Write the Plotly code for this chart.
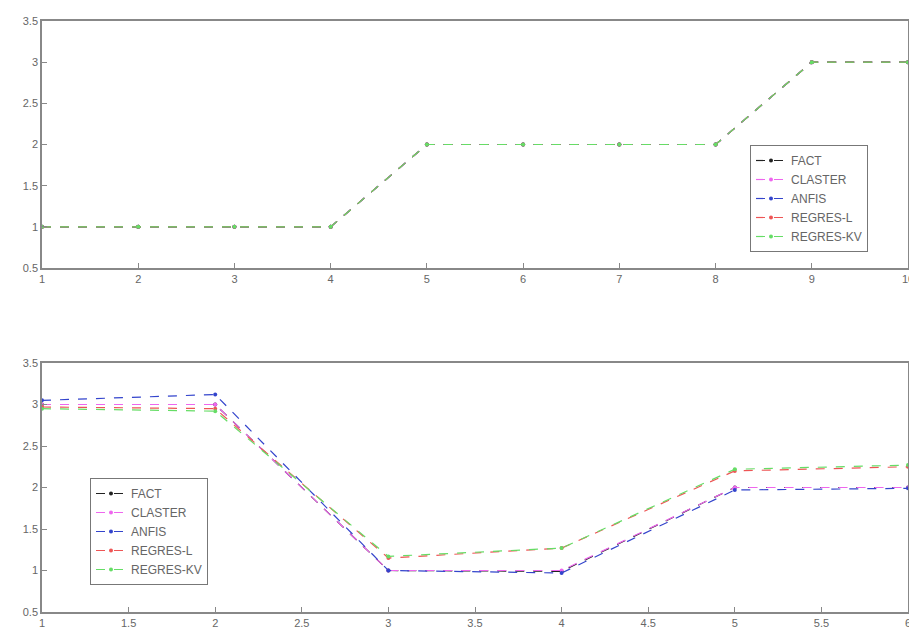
import plotly.graph_objects as go

x_top = [1, 2, 3, 4, 5, 6, 7, 8, 9, 10]
fact_top = [1, 1, 1, 1, 2, 2, 2, 2, 3, 3]
claster_top = [1, 1, 1, 1, 2, 2, 2, 2, 3, 3]
anfis_top = [1, 1, 1, 1, 2, 2, 2, 2, 3, 3]
regl_top = [1, 1, 1, 1, 2, 2, 2, 2, 3, 3]
regkv_top = [1, 1, 1, 1, 2, 2, 2, 2, 3, 3]

x_bot = [1, 2, 3, 4, 5, 6]
fact_bot = [3.0, 3.0, 1.0, 0.99, 2.0, 2.0]
claster_bot = [3.0, 3.0, 1.0, 1.0, 2.0, 2.0]
anfis_bot = [3.05, 3.12, 1.0, 0.97, 1.97, 1.99]
regl_bot = [2.97, 2.95, 1.15, 1.27, 2.2, 2.25]
regkv_bot = [2.95, 2.92, 1.17, 1.27, 2.22, 2.27]

names = ["FACT", "CLASTER", "ANFIS", "REGRES-L", "REGRES-KV"]
colors = ["#222222", "#ee66ee", "#3344cc", "#ee5555", "#66dd66"]

fig = go.Figure()
top_series = [fact_top, claster_top, anfis_top, regl_top, regkv_top]
bot_series = [fact_bot, claster_bot, anfis_bot, regl_bot, regkv_bot]
for name, col, ys in zip(names, colors, top_series):
    fig.add_trace(go.Scatter(x=x_top, y=ys, name=name, mode="lines+markers",
                             line=dict(color=col, dash="dash", width=1.2),
                             marker=dict(color=col, size=4),
                             xaxis="x", yaxis="y", legend="legend"))
for name, col, ys in zip(names, colors, bot_series):
    fig.add_trace(go.Scatter(x=x_bot, y=ys, name=name, mode="lines+markers",
                             line=dict(color=col, dash="dash", width=1.2),
                             marker=dict(color=col, size=4),
                             xaxis="x2", yaxis="y2", legend="legend2"))

# page body adds an 8px offset, so the figure is 8px smaller than the window
W, H = 909, 620
xd = [34 / W, 900 / W]
axcommon = dict(showgrid=False, zeroline=False, showline=True, linecolor="#888888",
                linewidth=1.5, mirror=True, ticks="inside", ticklen=5, tickcolor="#888888",
                automargin=False, tickfont=dict(size=11, color="#666666"))
legcommon = dict(xanchor="left", yanchor="top", bordercolor="#777777", borderwidth=1,
                 bgcolor="white", font=dict(size=12, color="#666666"), tracegroupgap=0,
                 itemwidth=30)
fig.update_layout(
    width=W, height=H, margin=dict(l=0, r=0, t=0, b=0, autoexpand=False),
    plot_bgcolor="white", paper_bgcolor="white",
    font=dict(family="Liberation Sans, Arial", color="#666666", size=11),
    xaxis=dict(domain=xd, anchor="y", range=[1, 10], dtick=1, **axcommon),
    yaxis=dict(domain=[1 - 260 / H, 1 - 13 / H], anchor="x", range=[0.5, 3.5], dtick=0.5, **axcommon),
    xaxis2=dict(domain=xd, anchor="y2", range=[1, 6], dtick=0.5, **axcommon),
    yaxis2=dict(domain=[1 - 604 / H, 1 - 355 / H], anchor="x2", range=[0.5, 3.5], dtick=0.5, **axcommon),
    legend=dict(x=742 / W, y=1 - 137 / H, **legcommon),
    legend2=dict(x=82 / W, y=1 - 470 / H, **legcommon),
)
fig.write_html("out.html")
